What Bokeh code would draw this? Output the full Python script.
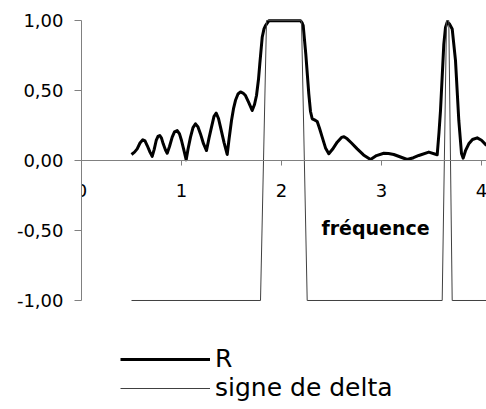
from bokeh.plotting import figure
from bokeh.models import Range1d, FixedTicker, Span, Legend, LegendItem
from bokeh.core.properties import value
from bokeh.embed import file_html
from bokeh.resources import INLINE

# ---- data ----
r_x = [0.50, 0.53, 0.557, 0.585, 0.613, 0.635, 0.657, 0.685, 0.707,
       0.727, 0.747, 0.765, 0.783, 0.80, 0.817, 0.84, 0.857,
       0.88, 0.907, 0.93, 0.957, 0.98, 1.00, 1.025, 1.047,
       1.065, 1.09, 1.115, 1.14, 1.165, 1.19, 1.22, 1.25,
       1.275, 1.30, 1.325, 1.347, 1.37, 1.39, 1.425, 1.457,
       1.475, 1.50, 1.52, 1.54, 1.565, 1.59, 1.615, 1.64, 1.675, 1.707,
       1.73, 1.75, 1.77, 1.783, 1.807, 1.825, 1.84, 1.873,
       2.19, 2.205, 2.217, 2.243, 2.273, 2.29, 2.307, 2.33, 2.357, 2.38, 2.407,
       2.44, 2.473, 2.51, 2.557, 2.60, 2.625, 2.657, 2.70, 2.757, 2.82, 2.89,
       2.95, 3.023, 3.07, 3.123, 3.19, 3.257, 3.32, 3.373, 3.473, 3.557,
       3.575, 3.59, 3.623, 3.64, 3.657, 3.68, 3.707, 3.74, 3.773, 3.80, 3.817,
       3.84, 3.873, 3.91, 3.957, 4.00, 4.05]
r_y = [0.043, 0.06, 0.083, 0.125, 0.148, 0.14, 0.107, 0.06, 0.029,
       0.08, 0.143, 0.172, 0.179, 0.16, 0.119, 0.075, 0.052,
       0.10, 0.167, 0.205, 0.214, 0.19, 0.143, 0.07, 0.005,
       0.08, 0.167, 0.235, 0.262, 0.24, 0.19, 0.12, 0.071,
       0.16, 0.238, 0.315, 0.338, 0.30, 0.238, 0.13, 0.043,
       0.15, 0.286, 0.37, 0.43, 0.475, 0.49, 0.482, 0.464, 0.41, 0.357,
       0.40, 0.464, 0.58, 0.69, 0.88, 0.94, 0.964, 0.998,
       0.998, 0.985, 0.964, 0.76, 0.476, 0.35, 0.298, 0.29, 0.279, 0.23, 0.167,
       0.09, 0.048, 0.08, 0.131, 0.165, 0.17, 0.155, 0.125, 0.083, 0.04, 0.007,
       0.035, 0.052, 0.05, 0.043, 0.025, 0.007, 0.02, 0.036, 0.06, 0.041,
       0.20, 0.357, 0.83, 0.95, 0.988, 0.975, 0.94, 0.714, 0.286, 0.05, 0.017,
       0.07, 0.119, 0.15, 0.162, 0.145, 0.107]

d_x = [0.50, 1.79, 1.85, 2.20, 2.257, 3.607, 3.65, 3.673, 3.707, 4.06]
d_y = [-1, -1, 1, 1, -1, -1, 1, 1, -1, -1]

x_ticks = [0, 1, 2, 3, 4]
x_tick_labels = ["0", "1", "2", "3", "4"]
y_ticks = [-1.0, -0.5, 0.0, 0.5, 1.0]
y_tick_labels = ["-1,00", "-0,50", "0,00", "0,50", "1,00"]
x_title = "fréquence"
series_names = ["R", "signe de delta"]

FONT = "DejaVu Sans"
GRAY = "#808080"

p = figure(width=486, height=409, output_backend="svg", toolbar_location=None,
           x_range=Range1d(0, 4.05), y_range=Range1d(-1.7786, 1.1429),
           x_axis_location=None, min_border_left=81, min_border_right=0,
           min_border_top=0, min_border_bottom=0)
p.outline_line_color = None
p.xgrid.visible = False
p.ygrid.visible = False
p.background_fill_color = "white"
p.border_fill_color = "white"

yax = p.yaxis[0]
yax.ticker = FixedTicker(ticks=y_ticks)
yax.major_label_overrides = {t: l for t, l in zip(y_ticks, y_tick_labels)}
yax.bounds = (-1, 1)
yax.axis_line_color = GRAY
yax.major_tick_line_color = GRAY
yax.minor_tick_line_color = None
yax.major_tick_out = 7
yax.major_tick_in = 0
yax.major_label_standoff = 11
yax.major_label_text_font = FONT
yax.major_label_text_font_size = "18px"
yax.major_label_text_color = "black"

# horizontal axis crossing at y = 0
p.add_layout(Span(location=0, dimension="width", line_color=GRAY, line_width=1))
p.segment(x0=x_ticks[1:], y0=0, x1=x_ticks[1:], y1=-0.036, line_color=GRAY, line_width=1)
p.text(x=x_ticks, y=0, text=x_tick_labels, text_font=value(FONT), text_font_size="18px",
       text_align="center", text_baseline="top", y_offset=23, text_color="black")
p.text(x=[2.94], y=[-0.48], text=[x_title], text_font=value(FONT), text_font_size="19px",
       text_font_style="bold", text_align="center", text_baseline="middle", text_color="black")

r1 = p.line(r_x, r_y, line_color="black", line_width=3, line_join="round")
r2 = p.line(d_x, d_y, line_color="#404040", line_width=1)

legend = Legend(items=[LegendItem(label=series_names[0], renderers=[r1]),
                       LegendItem(label=series_names[1], renderers=[r2])],
                location=(39, 7), glyph_width=90, glyph_height=28, label_height=28,
                label_standoff=5, spacing=0, padding=0, margin=0,
                border_line_color=None, background_fill_alpha=0,
                label_text_font=FONT, label_text_font_size="25px", label_text_color="black")
p.add_layout(legend)

open("out.html", "w").write(file_html(p, INLINE))
